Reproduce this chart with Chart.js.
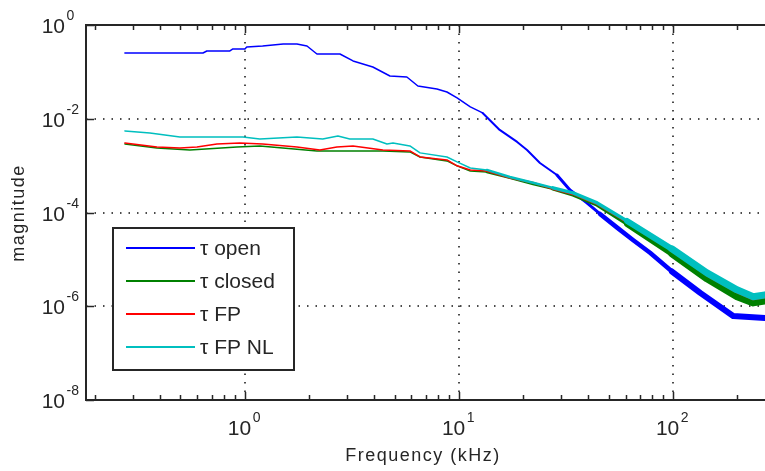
<!DOCTYPE html>
<html>
<head>
<meta charset="utf-8">
<script src="https://cdn.jsdelivr.net/npm/chart.js@4"></script>
<style>
  html, body { margin: 0; padding: 0; background: #fff; }
  canvas { display: block; }
</style>
</head>
<body>
<canvas id="chart" width="765" height="471"></canvas>
<script>
// values (frequency in kHz, magnitude)
const freqOpen = [0.275, 0.637, 0.664, 0.851, 0.879, 1.0, 1.02, 1.21, 1.51, 1.75, 1.95, 2.17, 2.78, 3.20, 3.96, 4.76, 5.71, 6.43, 7.89, 8.79, 9.8, 11.3, 12.9, 15.5, 18.7, 20.8, 23.9, 28.7, 33.0, 39.6, 45.6, 55, 65, 78.1, 98.9, 134, 191, 269];
const magOpen = [0.253, 0.253, 0.279, 0.279, 0.308, 0.308, 0.34, 0.357, 0.393, 0.393, 0.357, 0.241, 0.241, 0.171, 0.127, 0.0818, 0.0778, 0.05, 0.0432, 0.0372, 0.0278, 0.0179, 0.0133, 0.00577, 0.0032, 0.00216, 0.00114, 6.3e-4, 3.03e-4, 1.6e-4, 9.3e-5, 4.7e-5, 2.6e-5, 1.38e-5, 5.5e-6, 1.93e-6, 6.2e-7, 5.6e-7];

const freqClosed = [0.275, 0.388, 0.553, 0.918, 1.175, 2.17, 4.41, 5.9, 6.58, 8.79, 9.8, 11.3, 13.5, 17.3, 22.2, 27.5, 34.1, 44.2, 61, 98.9, 144, 199, 237, 269];
const magClosed = [0.0029, 0.00238, 0.00216, 0.00251, 0.00263, 0.00206, 0.00206, 0.00196, 0.00153, 0.00126, 9.9e-4, 7.7e-4, 7.3e-4, 5.5e-4, 4.07e-4, 3.19e-4, 2.37e-4, 1.45e-4, 5.7e-5, 1.31e-5, 3.84e-6, 1.59e-6, 1.18e-6, 1.3e-6];

const freqFP = [0.275, 0.388, 0.497, 0.597, 0.74, 0.947, 1.21, 1.75, 2.24, 2.69, 3.2, 4.41, 5.9, 6.58, 8.79, 9.8, 11.3, 13.5, 17.3, 22.2, 27.5, 34.1, 44.2, 61, 98.9, 144, 199, 237, 269];
const magFP = [0.00305, 0.00251, 0.00238, 0.00251, 0.0029, 0.00305, 0.0029, 0.00251, 0.00216, 0.00251, 0.00263, 0.00216, 0.00206, 0.00153, 0.00132, 9.9e-4, 8.1e-4, 7.7e-4, 5.5e-4, 4.3e-4, 3.19e-4, 2.49e-4, 1.53e-4, 6.3e-5, 1.6e-5, 4.67e-6, 2.03e-6, 1.44e-6, 1.59e-6];

const freqFPNL = [0.275, 0.36, 0.497, 0.979, 1.175, 1.75, 2.31, 2.72, 3.09, 3.96, 4.61, 4.92, 5.9, 6.58, 8.79, 9.8, 11.3, 13.5, 17.3, 22.2, 27.5, 34.1, 44.2, 61, 98.9, 144, 199, 237, 269];
const magFPNL = [0.0055, 0.00498, 0.00409, 0.00409, 0.00371, 0.00409, 0.00371, 0.0043, 0.00371, 0.00371, 0.0029, 0.00305, 0.00263, 0.00187, 0.00153, 0.0012, 8.9e-4, 8.1e-4, 5.7e-4, 4.3e-4, 3.35e-4, 2.62e-4, 1.6e-4, 6.6e-5, 1.67e-5, 5.15e-6, 2.24e-6, 1.59e-6, 1.75e-6];

const seriesLabels = ['\u03c4 open', '\u03c4 closed', '\u03c4 FP', '\u03c4 FP NL'];
const xMajorTicks = [1, 10, 100];
const yMajorTicks = [1, 1e-2, 1e-4, 1e-6, 1e-8];

const colors = ['#0000ff', '#008000', '#ff0000', '#00bfbf'];
const FONT = '"Liberation Sans", Arial, sans-serif';
const INK = '#262626';

function toPoints(xs, ys) {
  return xs.map((x, i) => ({ x: x, y: ys[i] }));
}

// the measured curves get noisy (thicker) at high frequency
function bandWidth(widths) {
  return ctx => {
    const f = ctx.p0.parsed.x;
    if (f < 12) return widths[0];
    if (f < 25) return widths[1];
    if (f < 45) return widths[2];
    if (f < 80) return widths[3];
    return widths[4];
  };
}

function makeSet(i, xs, ys, widths) {
  return {
    label: seriesLabels[i],
    data: toPoints(xs, ys),
    borderColor: colors[i],
    borderWidth: 1.5,
    pointRadius: 0,
    tension: 0,
    fill: false,
    borderCapStyle: 'round',
    borderJoinStyle: 'round',
    order: 4 - i,
    segment: { borderWidth: bandWidth(widths) }
  };
}

function drawPow(ctx, x, y, exp, baseSize, expSize, mode) {
  ctx.font = baseSize + 'px ' + FONT;
  const wBase = ctx.measureText('10').width;
  ctx.font = expSize + 'px ' + FONT;
  const wExp = ctx.measureText(exp).width;
  let left;
  if (mode === 'y') left = x - wBase;
  else left = x - (wBase + 1 + wExp) / 2;
  ctx.textAlign = 'left';
  ctx.textBaseline = 'alphabetic';
  ctx.font = baseSize + 'px ' + FONT;
  ctx.fillText('10', left, mode === 'y' ? y + 8 : 435);
  ctx.font = expSize + 'px ' + FONT;
  ctx.fillText(exp, left + wBase + 1.5, mode === 'y' ? y - 5 : 422);
}

const matlabAxes = {
  id: 'matlabAxes',
  beforeDatasetsDraw(chart) {
    const ctx = chart.ctx;
    const a = chart.chartArea;
    const xs = chart.scales.x, ys = chart.scales.y;
    ctx.save();
    ctx.strokeStyle = '#111';
    ctx.lineWidth = 1.5;
    ctx.setLineDash([1.5, 7]);
    xMajorTicks.forEach(v => {
      const px = Math.round(xs.getPixelForValue(v));
      ctx.beginPath();
      ctx.moveTo(px, a.top);
      ctx.lineTo(px, a.bottom);
      ctx.stroke();
    });
    yMajorTicks.slice(1, -1).forEach(v => {
      const py = Math.round(ys.getPixelForValue(v));
      ctx.beginPath();
      ctx.moveTo(a.left, py);
      ctx.lineTo(a.right, py);
      ctx.stroke();
    });
    ctx.restore();
  },
  afterDatasetsDraw(chart) {
    const ctx = chart.ctx;
    const a = chart.chartArea;
    const xs = chart.scales.x, ys = chart.scales.y;
    ctx.save();
    ctx.strokeStyle = INK;
    ctx.fillStyle = INK;

    // box (right side falls outside the picture)
    ctx.lineWidth = 2;
    ctx.beginPath();
    ctx.moveTo(a.right, a.top);
    ctx.lineTo(a.left, a.top);
    ctx.lineTo(a.left, a.bottom);
    ctx.lineTo(a.right, a.bottom);
    ctx.stroke();

    // x ticks, inward, top and bottom
    ctx.lineWidth = 1.5;
    for (let d = -1; d <= 2; d++) {
      for (let m = 1; m <= 9; m++) {
        const v = m * Math.pow(10, d);
        if (v < xs.min || v > xs.max) continue;
        const px = Math.round(xs.getPixelForValue(v)) + 0.5;
        const len = m === 1 ? 8 : 5;
        ctx.beginPath();
        ctx.moveTo(px, a.bottom);
        ctx.lineTo(px, a.bottom - len);
        ctx.moveTo(px, a.top);
        ctx.lineTo(px, a.top + len);
        ctx.stroke();
      }
    }
    // y ticks
    yMajorTicks.forEach(v => {
      const py = Math.round(ys.getPixelForValue(v)) + 0.5;
      ctx.beginPath();
      ctx.moveTo(a.left, py);
      ctx.lineTo(a.left + 8, py);
      ctx.stroke();
    });

    // tick labels
    yMajorTicks.forEach(v => {
      const py = ys.getPixelForValue(v);
      drawPow(ctx, 65, py, String(Math.round(Math.log10(v))), 21, 14, 'y');
    });
    xMajorTicks.forEach(v => {
      const px = xs.getPixelForValue(v);
      drawPow(ctx, px - 1, 0, String(Math.round(Math.log10(v))), 21, 14, 'x');
    });

    // axis titles
    ctx.font = '18px ' + FONT;
    ctx.letterSpacing = '1.5px';
    ctx.textAlign = 'center';
    ctx.textBaseline = 'alphabetic';
    ctx.fillText('Frequency (kHz)', 423, 461);
    ctx.save();
    ctx.translate(24, 213);
    ctx.rotate(-Math.PI / 2);
    ctx.fillText('magnitude', 0, 0);
    ctx.restore();
    ctx.letterSpacing = '0px';

    // legend
    const lx = 113, ly = 228, lw = 181, lh = 142;
    ctx.fillStyle = '#fff';
    ctx.fillRect(lx, ly, lw, lh);
    ctx.lineWidth = 2;
    ctx.strokeStyle = INK;
    ctx.strokeRect(lx, ly, lw, lh);
    ctx.font = '21px ' + FONT;
    ctx.textAlign = 'left';
    chart.data.datasets.forEach((ds, i) => {
      const ry = 248 + i * 33;
      ctx.strokeStyle = ds.borderColor;
      ctx.lineWidth = 2;
      ctx.beginPath();
      ctx.moveTo(126, ry);
      ctx.lineTo(195, ry);
      ctx.stroke();
      ctx.fillStyle = INK;
      ctx.fillText(ds.label, 200, ry + 7);
    });
    ctx.restore();
  }
};

new Chart(document.getElementById('chart').getContext('2d'), {
  type: 'line',
  data: {
    datasets: [
      makeSet(0, freqOpen, magOpen, [1.5, 2, 3, 4.5, 6]),
      makeSet(1, freqClosed, magClosed, [1.5, 2.5, 3.5, 6, 7]),
      makeSet(2, freqFP, magFP, [1.5, 2, 2.5, 3, 3]),
      makeSet(3, freqFPNL, magFPNL, [1.5, 2.5, 3.5, 6, 7])
    ]
  },
  options: {
    responsive: false,
    animation: false,
    layout: { padding: { left: 86, top: 25, right: 0, bottom: 71 } },
    plugins: { legend: { display: false }, tooltip: { enabled: false } },
    scales: {
      x: { type: 'logarithmic', min: 0.181, max: 269, display: false },
      y: { type: 'logarithmic', min: 1e-8, max: 1, display: false }
    }
  },
  plugins: [matlabAxes]
});
</script>
</body>
</html>
